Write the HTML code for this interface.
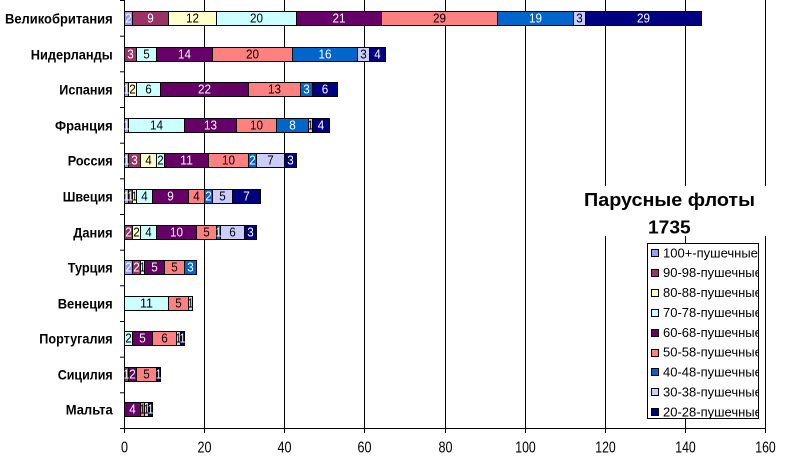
<!DOCTYPE html>
<html>
<head>
<meta charset="utf-8">
<style>
html,body{margin:0;padding:0;background:#fff;}
svg{display:block;}
text{font-family:"Liberation Sans",Arial,sans-serif;}
.cat{font-weight:bold;font-size:14px;fill:#000;}
.ax{font-size:16px;fill:#000;}
.w{font-size:13px;fill:#fff;text-anchor:middle;}
.b{font-size:13px;fill:#000;text-anchor:middle;}
.lg{font-size:13px;fill:#000;}
</style>
</head>
<body>
<svg width="786" height="461" viewBox="0 0 786 461" xmlns="http://www.w3.org/2000/svg">
<rect x="0" y="0" width="786" height="461" fill="#fff"/>

<g stroke="#000" stroke-width="1">
<line x1="204.5" y1="0" x2="204.5" y2="428"/>
<line x1="284.5" y1="0" x2="284.5" y2="428"/>
<line x1="364.5" y1="0" x2="364.5" y2="428"/>
<line x1="445.5" y1="0" x2="445.5" y2="428"/>
<line x1="525.5" y1="0" x2="525.5" y2="428"/>
<line x1="605.5" y1="0" x2="605.5" y2="428"/>
<line x1="685.5" y1="0" x2="685.5" y2="428"/>
<line x1="765.5" y1="0" x2="765.5" y2="428"/>
<line x1="124.5" y1="0" x2="124.5" y2="429"/>
<line x1="120" y1="428.5" x2="766" y2="428.5"/>
<line x1="120" y1="0.5" x2="124" y2="0.5"/>
<line x1="120" y1="36.2" x2="124" y2="36.2"/>
<line x1="120" y1="71.8" x2="124" y2="71.8"/>
<line x1="120" y1="107.5" x2="124" y2="107.5"/>
<line x1="120" y1="143.2" x2="124" y2="143.2"/>
<line x1="120" y1="178.8" x2="124" y2="178.8"/>
<line x1="120" y1="214.5" x2="124" y2="214.5"/>
<line x1="120" y1="250.2" x2="124" y2="250.2"/>
<line x1="120" y1="285.8" x2="124" y2="285.8"/>
<line x1="120" y1="321.5" x2="124" y2="321.5"/>
<line x1="120" y1="357.2" x2="124" y2="357.2"/>
<line x1="120" y1="392.8" x2="124" y2="392.8"/>
<line x1="124.5" y1="428" x2="124.5" y2="433"/>
<line x1="204.5" y1="428" x2="204.5" y2="433"/>
<line x1="284.5" y1="428" x2="284.5" y2="433"/>
<line x1="364.5" y1="428" x2="364.5" y2="433"/>
<line x1="445.5" y1="428" x2="445.5" y2="433"/>
<line x1="525.5" y1="428" x2="525.5" y2="433"/>
<line x1="605.5" y1="428" x2="605.5" y2="433"/>
<line x1="685.5" y1="428" x2="685.5" y2="433"/>
<line x1="765.5" y1="428" x2="765.5" y2="433"/>
</g>

<g class="ax" text-anchor="middle">
<text x="124.5" y="452.5" textLength="7" lengthAdjust="spacingAndGlyphs">0</text>
<text x="204.5" y="452.5" textLength="14" lengthAdjust="spacingAndGlyphs">20</text>
<text x="284.5" y="452.5" textLength="14" lengthAdjust="spacingAndGlyphs">40</text>
<text x="364.5" y="452.5" textLength="14" lengthAdjust="spacingAndGlyphs">60</text>
<text x="445.5" y="452.5" textLength="14" lengthAdjust="spacingAndGlyphs">80</text>
<text x="525.5" y="452.5" textLength="20.5" lengthAdjust="spacingAndGlyphs">100</text>
<text x="605.5" y="452.5" textLength="20.5" lengthAdjust="spacingAndGlyphs">120</text>
<text x="685.5" y="452.5" textLength="20.5" lengthAdjust="spacingAndGlyphs">140</text>
<text x="765.5" y="452.5" textLength="20.5" lengthAdjust="spacingAndGlyphs">160</text>
</g>

<g class="cat">
<text x="5" y="23.5" textLength="107.7" lengthAdjust="spacingAndGlyphs">Великобритания</text>
<text x="30.7" y="59.5" textLength="82" lengthAdjust="spacingAndGlyphs">Нидерланды</text>
<text x="59.3" y="94.5" textLength="53.3" lengthAdjust="spacingAndGlyphs">Испания</text>
<text x="55" y="130.5" textLength="57.7" lengthAdjust="spacingAndGlyphs">Франция</text>
<text x="67.7" y="165.5" textLength="45" lengthAdjust="spacingAndGlyphs">Россия</text>
<text x="62.7" y="201.5" textLength="50" lengthAdjust="spacingAndGlyphs">Швеция</text>
<text x="73.3" y="237.5" textLength="39.3" lengthAdjust="spacingAndGlyphs">Дания</text>
<text x="67.7" y="272.5" textLength="45" lengthAdjust="spacingAndGlyphs">Турция</text>
<text x="57.7" y="308.5" textLength="55" lengthAdjust="spacingAndGlyphs">Венеция</text>
<text x="39.3" y="343.5" textLength="73.3" lengthAdjust="spacingAndGlyphs">Португалия</text>
<text x="57.7" y="379.5" textLength="55" lengthAdjust="spacingAndGlyphs">Сицилия</text>
<text x="65.7" y="414.5" textLength="47" lengthAdjust="spacingAndGlyphs">Мальта</text>
</g>

<g stroke="#000" stroke-width="1">
<rect x="124.5" y="11.5" width="8" height="14" fill="#9999FF"/>
<rect x="132.5" y="11.5" width="36" height="14" fill="#993366"/>
<rect x="168.5" y="11.5" width="48" height="14" fill="#FFFFCC"/>
<rect x="216.5" y="11.5" width="80" height="14" fill="#CCFFFF"/>
<rect x="296.5" y="11.5" width="85" height="14" fill="#660066"/>
<rect x="381.5" y="11.5" width="116" height="14" fill="#FF8080"/>
<rect x="497.5" y="11.5" width="76" height="14" fill="#0066CC"/>
<rect x="573.5" y="11.5" width="12" height="14" fill="#CCCCFF"/>
<rect x="585.5" y="11.5" width="116" height="14" fill="#000080"/>
<rect x="124.5" y="47.5" width="12" height="14" fill="#993366"/>
<rect x="136.5" y="47.5" width="20" height="14" fill="#CCFFFF"/>
<rect x="156.5" y="47.5" width="56" height="14" fill="#660066"/>
<rect x="212.5" y="47.5" width="80" height="14" fill="#FF8080"/>
<rect x="292.5" y="47.5" width="65" height="14" fill="#0066CC"/>
<rect x="357.5" y="47.5" width="12" height="14" fill="#CCCCFF"/>
<rect x="369.5" y="47.5" width="16" height="14" fill="#000080"/>
<rect x="124.5" y="82.5" width="4" height="14" fill="#9999FF"/>
<rect x="128.5" y="82.5" width="8" height="14" fill="#FFFFCC"/>
<rect x="136.5" y="82.5" width="24" height="14" fill="#CCFFFF"/>
<rect x="160.5" y="82.5" width="88" height="14" fill="#660066"/>
<rect x="248.5" y="82.5" width="52" height="14" fill="#FF8080"/>
<rect x="300.5" y="82.5" width="12" height="14" fill="#0066CC"/>
<rect x="312.5" y="82.5" width="25" height="14" fill="#000080"/>
<rect x="124.5" y="118.5" width="4" height="14" fill="#9999FF"/>
<rect x="128.5" y="118.5" width="56" height="14" fill="#CCFFFF"/>
<rect x="184.5" y="118.5" width="52" height="14" fill="#660066"/>
<rect x="236.5" y="118.5" width="40" height="14" fill="#FF8080"/>
<rect x="276.5" y="118.5" width="32" height="14" fill="#0066CC"/>
<rect x="308.5" y="118.5" width="4" height="14" fill="#CCCCFF"/>
<rect x="312.5" y="118.5" width="17" height="14" fill="#000080"/>
<rect x="124.5" y="153.5" width="4" height="14" fill="#9999FF"/>
<rect x="128.5" y="153.5" width="12" height="14" fill="#993366"/>
<rect x="140.5" y="153.5" width="16" height="14" fill="#FFFFCC"/>
<rect x="156.5" y="153.5" width="8" height="14" fill="#CCFFFF"/>
<rect x="164.5" y="153.5" width="44" height="14" fill="#660066"/>
<rect x="208.5" y="153.5" width="40" height="14" fill="#FF8080"/>
<rect x="248.5" y="153.5" width="8" height="14" fill="#0066CC"/>
<rect x="256.5" y="153.5" width="28" height="14" fill="#CCCCFF"/>
<rect x="284.5" y="153.5" width="12" height="14" fill="#000080"/>
<rect x="124.5" y="189.5" width="4" height="14" fill="#9999FF"/>
<rect x="128.5" y="189.5" width="4" height="14" fill="#993366"/>
<rect x="132.5" y="189.5" width="4" height="14" fill="#FFFFCC"/>
<rect x="136.5" y="189.5" width="16" height="14" fill="#CCFFFF"/>
<rect x="152.5" y="189.5" width="36" height="14" fill="#660066"/>
<rect x="188.5" y="189.5" width="16" height="14" fill="#FF8080"/>
<rect x="204.5" y="189.5" width="8" height="14" fill="#0066CC"/>
<rect x="212.5" y="189.5" width="20" height="14" fill="#CCCCFF"/>
<rect x="232.5" y="189.5" width="28" height="14" fill="#000080"/>
<rect x="124.5" y="225.5" width="8" height="14" fill="#993366"/>
<rect x="132.5" y="225.5" width="8" height="14" fill="#FFFFCC"/>
<rect x="140.5" y="225.5" width="16" height="14" fill="#CCFFFF"/>
<rect x="156.5" y="225.5" width="40" height="14" fill="#660066"/>
<rect x="196.5" y="225.5" width="20" height="14" fill="#FF8080"/>
<rect x="216.5" y="225.5" width="4" height="14" fill="#0066CC"/>
<rect x="220.5" y="225.5" width="24" height="14" fill="#CCCCFF"/>
<rect x="244.5" y="225.5" width="12" height="14" fill="#000080"/>
<rect x="124.5" y="260.5" width="8" height="14" fill="#9999FF"/>
<rect x="132.5" y="260.5" width="8" height="14" fill="#993366"/>
<rect x="140.5" y="260.5" width="4" height="14" fill="#CCFFFF"/>
<rect x="144.5" y="260.5" width="20" height="14" fill="#660066"/>
<rect x="164.5" y="260.5" width="20" height="14" fill="#FF8080"/>
<rect x="184.5" y="260.5" width="12" height="14" fill="#0066CC"/>
<rect x="124.5" y="296.5" width="44" height="14" fill="#CCFFFF"/>
<rect x="168.5" y="296.5" width="20" height="14" fill="#FF8080"/>
<rect x="188.5" y="296.5" width="4" height="14" fill="#CCCCFF"/>
<rect x="124.5" y="331.5" width="8" height="14" fill="#CCFFFF"/>
<rect x="132.5" y="331.5" width="20" height="14" fill="#660066"/>
<rect x="152.5" y="331.5" width="24" height="14" fill="#FF8080"/>
<rect x="176.5" y="331.5" width="4" height="14" fill="#CCCCFF"/>
<rect x="180.5" y="331.5" width="4" height="14" fill="#000080"/>
<rect x="124.5" y="367.5" width="4" height="14" fill="#993366"/>
<rect x="128.5" y="367.5" width="8" height="14" fill="#660066"/>
<rect x="136.5" y="367.5" width="20" height="14" fill="#FF8080"/>
<rect x="156.5" y="367.5" width="4" height="14" fill="#000080"/>
<rect x="124.5" y="402.5" width="16" height="14" fill="#660066"/>
<rect x="140.5" y="402.5" width="4" height="14" fill="#FF8080"/>
<rect x="144.5" y="402.5" width="4" height="14" fill="#CCCCFF"/>
<rect x="148.5" y="402.5" width="4" height="14" fill="#000080"/>
</g>

<g>
<text class="w" x="128.5" y="22.5" textLength="6.5" lengthAdjust="spacingAndGlyphs">2</text>
<text class="w" x="150.5" y="22.5" textLength="6.5" lengthAdjust="spacingAndGlyphs">9</text>
<text class="b" x="192.5" y="22.5" textLength="13" lengthAdjust="spacingAndGlyphs">12</text>
<text class="b" x="256.5" y="22.5" textLength="13" lengthAdjust="spacingAndGlyphs">20</text>
<text class="w" x="339" y="22.5" textLength="13" lengthAdjust="spacingAndGlyphs">21</text>
<text class="b" x="439.5" y="22.5" textLength="13" lengthAdjust="spacingAndGlyphs">29</text>
<text class="w" x="535.5" y="22.5" textLength="13" lengthAdjust="spacingAndGlyphs">19</text>
<text class="b" x="579.5" y="22.5" textLength="6.5" lengthAdjust="spacingAndGlyphs">3</text>
<text class="w" x="643.5" y="22.5" textLength="13" lengthAdjust="spacingAndGlyphs">29</text>
<text class="w" x="130.5" y="58.5" textLength="6.5" lengthAdjust="spacingAndGlyphs">3</text>
<text class="b" x="146.5" y="58.5" textLength="6.5" lengthAdjust="spacingAndGlyphs">5</text>
<text class="w" x="184.5" y="58.5" textLength="13" lengthAdjust="spacingAndGlyphs">14</text>
<text class="b" x="252.5" y="58.5" textLength="13" lengthAdjust="spacingAndGlyphs">20</text>
<text class="w" x="325" y="58.5" textLength="13" lengthAdjust="spacingAndGlyphs">16</text>
<text class="b" x="363.5" y="58.5" textLength="6.5" lengthAdjust="spacingAndGlyphs">3</text>
<text class="w" x="377.5" y="58.5" textLength="6.5" lengthAdjust="spacingAndGlyphs">4</text>
<text class="w" x="126.5" y="93.5" textLength="5.5" lengthAdjust="spacingAndGlyphs">1</text>
<text class="b" x="132.5" y="93.5" textLength="6.5" lengthAdjust="spacingAndGlyphs">2</text>
<text class="b" x="148.5" y="93.5" textLength="6.5" lengthAdjust="spacingAndGlyphs">6</text>
<text class="w" x="204.5" y="93.5" textLength="13" lengthAdjust="spacingAndGlyphs">22</text>
<text class="b" x="274.5" y="93.5" textLength="13" lengthAdjust="spacingAndGlyphs">13</text>
<text class="w" x="306.5" y="93.5" textLength="6.5" lengthAdjust="spacingAndGlyphs">3</text>
<text class="w" x="325" y="93.5" textLength="6.5" lengthAdjust="spacingAndGlyphs">6</text>
<text class="w" x="126.5" y="129.5" textLength="5.5" lengthAdjust="spacingAndGlyphs">1</text>
<text class="b" x="156.5" y="129.5" textLength="13" lengthAdjust="spacingAndGlyphs">14</text>
<text class="w" x="210.5" y="129.5" textLength="13" lengthAdjust="spacingAndGlyphs">13</text>
<text class="b" x="256.5" y="129.5" textLength="13" lengthAdjust="spacingAndGlyphs">10</text>
<text class="w" x="292.5" y="129.5" textLength="6.5" lengthAdjust="spacingAndGlyphs">8</text>
<text class="b" x="310.5" y="129.5" textLength="5.5" lengthAdjust="spacingAndGlyphs">1</text>
<text class="w" x="321" y="129.5" textLength="6.5" lengthAdjust="spacingAndGlyphs">4</text>
<text class="w" x="126.5" y="164.5" textLength="5.5" lengthAdjust="spacingAndGlyphs">1</text>
<text class="w" x="134.5" y="164.5" textLength="6.5" lengthAdjust="spacingAndGlyphs">3</text>
<text class="b" x="148.5" y="164.5" textLength="6.5" lengthAdjust="spacingAndGlyphs">4</text>
<text class="b" x="160.5" y="164.5" textLength="6.5" lengthAdjust="spacingAndGlyphs">2</text>
<text class="w" x="186.5" y="164.5" textLength="13" lengthAdjust="spacingAndGlyphs">11</text>
<text class="b" x="228.5" y="164.5" textLength="13" lengthAdjust="spacingAndGlyphs">10</text>
<text class="w" x="252.5" y="164.5" textLength="6.5" lengthAdjust="spacingAndGlyphs">2</text>
<text class="b" x="270.5" y="164.5" textLength="6.5" lengthAdjust="spacingAndGlyphs">7</text>
<text class="w" x="290.5" y="164.5" textLength="6.5" lengthAdjust="spacingAndGlyphs">3</text>
<text class="w" x="126.5" y="200.5" textLength="5.5" lengthAdjust="spacingAndGlyphs">1</text>
<text class="w" x="130.5" y="200.5" textLength="5.5" lengthAdjust="spacingAndGlyphs">1</text>
<text class="b" x="134.5" y="200.5" textLength="5.5" lengthAdjust="spacingAndGlyphs">1</text>
<text class="b" x="144.5" y="200.5" textLength="6.5" lengthAdjust="spacingAndGlyphs">4</text>
<text class="w" x="170.5" y="200.5" textLength="6.5" lengthAdjust="spacingAndGlyphs">9</text>
<text class="b" x="196.5" y="200.5" textLength="6.5" lengthAdjust="spacingAndGlyphs">4</text>
<text class="w" x="208.5" y="200.5" textLength="6.5" lengthAdjust="spacingAndGlyphs">2</text>
<text class="b" x="222.5" y="200.5" textLength="6.5" lengthAdjust="spacingAndGlyphs">5</text>
<text class="w" x="246.5" y="200.5" textLength="6.5" lengthAdjust="spacingAndGlyphs">7</text>
<text class="w" x="128.5" y="236.5" textLength="6.5" lengthAdjust="spacingAndGlyphs">2</text>
<text class="b" x="136.5" y="236.5" textLength="6.5" lengthAdjust="spacingAndGlyphs">2</text>
<text class="b" x="148.5" y="236.5" textLength="6.5" lengthAdjust="spacingAndGlyphs">4</text>
<text class="w" x="176.5" y="236.5" textLength="13" lengthAdjust="spacingAndGlyphs">10</text>
<text class="b" x="206.5" y="236.5" textLength="6.5" lengthAdjust="spacingAndGlyphs">5</text>
<text class="w" x="218.5" y="236.5" textLength="5.5" lengthAdjust="spacingAndGlyphs">1</text>
<text class="b" x="232.5" y="236.5" textLength="6.5" lengthAdjust="spacingAndGlyphs">6</text>
<text class="w" x="250.5" y="236.5" textLength="6.5" lengthAdjust="spacingAndGlyphs">3</text>
<text class="w" x="128.5" y="271.5" textLength="6.5" lengthAdjust="spacingAndGlyphs">2</text>
<text class="w" x="136.5" y="271.5" textLength="6.5" lengthAdjust="spacingAndGlyphs">2</text>
<text class="b" x="142.5" y="271.5" textLength="5.5" lengthAdjust="spacingAndGlyphs">1</text>
<text class="w" x="154.5" y="271.5" textLength="6.5" lengthAdjust="spacingAndGlyphs">5</text>
<text class="b" x="174.5" y="271.5" textLength="6.5" lengthAdjust="spacingAndGlyphs">5</text>
<text class="w" x="190.5" y="271.5" textLength="6.5" lengthAdjust="spacingAndGlyphs">3</text>
<text class="b" x="146.5" y="307.5" textLength="13" lengthAdjust="spacingAndGlyphs">11</text>
<text class="b" x="178.5" y="307.5" textLength="6.5" lengthAdjust="spacingAndGlyphs">5</text>
<text class="b" x="190.5" y="307.5" textLength="5.5" lengthAdjust="spacingAndGlyphs">1</text>
<text class="b" x="128.5" y="342.5" textLength="6.5" lengthAdjust="spacingAndGlyphs">2</text>
<text class="w" x="142.5" y="342.5" textLength="6.5" lengthAdjust="spacingAndGlyphs">5</text>
<text class="b" x="164.5" y="342.5" textLength="6.5" lengthAdjust="spacingAndGlyphs">6</text>
<text class="b" x="178.5" y="342.5" textLength="5.5" lengthAdjust="spacingAndGlyphs">1</text>
<text class="w" x="182.5" y="342.5" textLength="5.5" lengthAdjust="spacingAndGlyphs">1</text>
<text class="w" x="126.5" y="378.5" textLength="5.5" lengthAdjust="spacingAndGlyphs">1</text>
<text class="w" x="132.5" y="378.5" textLength="6.5" lengthAdjust="spacingAndGlyphs">2</text>
<text class="b" x="146.5" y="378.5" textLength="6.5" lengthAdjust="spacingAndGlyphs">5</text>
<text class="w" x="158.5" y="378.5" textLength="5.5" lengthAdjust="spacingAndGlyphs">1</text>
<text class="w" x="132.5" y="413.5" textLength="6.5" lengthAdjust="spacingAndGlyphs">4</text>
<text class="b" x="142.5" y="413.5" textLength="5.5" lengthAdjust="spacingAndGlyphs">1</text>
<text class="b" x="146.5" y="413.5" textLength="5.5" lengthAdjust="spacingAndGlyphs">1</text>
<text class="w" x="150.5" y="413.5" textLength="5.5" lengthAdjust="spacingAndGlyphs">1</text>
</g>

<rect x="578" y="186" width="190" height="50" fill="#fff"/>
<text x="584" y="206" font-size="18" font-weight="bold" textLength="171" lengthAdjust="spacingAndGlyphs">Парусные флоты</text>
<text x="648" y="233.3" font-size="18" font-weight="bold" textLength="42.7" lengthAdjust="spacingAndGlyphs">1735</text>

<defs>
<clipPath id="lgclip"><rect x="648" y="244" width="110" height="174"/></clipPath>
</defs>
<rect x="647.5" y="243.5" width="111" height="175" fill="#fff" stroke="#000" stroke-width="1"/>
<g stroke="#000" stroke-width="1">
<rect x="651.5" y="249.5" width="7" height="7" fill="#9999FF"/>
<rect x="651.5" y="269.5" width="7" height="7" fill="#993366"/>
<rect x="651.5" y="289.5" width="7" height="7" fill="#FFFFCC"/>
<rect x="651.5" y="309.5" width="7" height="7" fill="#CCFFFF"/>
<rect x="651.5" y="329.5" width="7" height="7" fill="#660066"/>
<rect x="651.5" y="349.5" width="7" height="7" fill="#FF8080"/>
<rect x="651.5" y="368.5" width="7" height="7" fill="#0066CC"/>
<rect x="651.5" y="388.5" width="7" height="7" fill="#CCCCFF"/>
<rect x="651.5" y="408.5" width="7" height="7" fill="#000080"/>
</g>
<g class="lg" clip-path="url(#lgclip)">
<text x="663" y="257.3">100+-пушечные</text>
<text x="663" y="277.2">90-98-пушечные</text>
<text x="663" y="297">80-88-пушечные</text>
<text x="663" y="316.9">70-78-пушечные</text>
<text x="663" y="336.8">60-68-пушечные</text>
<text x="663" y="356.7">50-58-пушечные</text>
<text x="663" y="376.5">40-48-пушечные</text>
<text x="663" y="396.4">30-38-пушечные</text>
<text x="663" y="416.3">20-28-пушечные</text>
</g>
</svg>
</body>
</html>
